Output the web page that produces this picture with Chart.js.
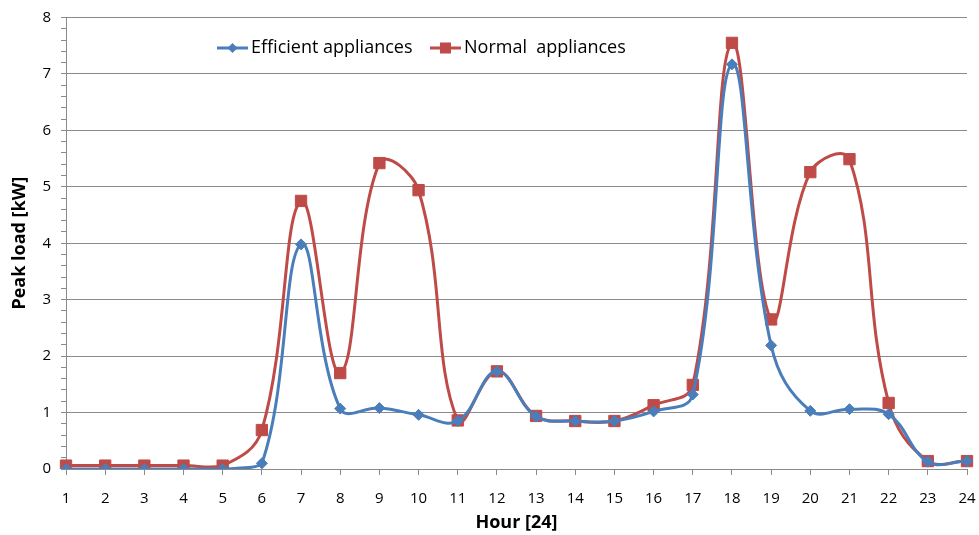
<!DOCTYPE html>
<html>
<head>
<meta charset="utf-8">
<script src="https://cdn.jsdelivr.net/npm/chart.js@4/dist/chart.umd.min.js"></script>
<style>
  html, body { margin: 0; padding: 0; background: #fff; }
  #wrap { width: 979px; height: 535px; }
</style>
</head>
<body>
<div id="wrap"><canvas id="c" width="979" height="535"></canvas></div>
<script>
// Hours of the day
const hours = [1,2,3,4,5,6,7,8,9,10,11,12,13,14,15,16,17,18,19,20,21,22,23,24];

// Peak load per hour [kW]
const efficientLoad = [0, 0, 0, 0, 0, 0.10, 3.98, 1.07, 1.08, 0.96, 0.85, 1.73,
                       0.93, 0.85, 0.85, 1.02, 1.32, 7.17, 2.19, 1.03, 1.06, 0.97, 0.13, 0.14];
const normalLoad    = [0.06, 0.06, 0.06, 0.06, 0.06, 0.69, 4.75, 1.70, 5.42, 4.94, 0.86, 1.73,
                       0.94, 0.85, 0.85, 1.13, 1.49, 7.55, 2.65, 5.26, 5.49, 1.17, 0.14, 0.14];

const seriesNames = ['Efficient appliances', 'Normal  appliances'];

const BLUE = '#4A7EBB';
const RED = '#BE4B48';
const GRID = '#8a8a8a';
const FONT = '"Open Sans", "Liberation Sans", sans-serif';

// Legend drawn inside the plot area: a short line with the series marker, then the name
const inlineLegend = {
  id: 'inlineLegend',
  afterDraw(chart) {
    const ctx = chart.ctx;
    const items = [
      { x: 217, color: BLUE, shape: 'diamond', text: seriesNames[0] },
      { x: 430, color: RED, shape: 'square', text: seriesNames[1] }
    ];
    const y = 48;
    ctx.save();
    ctx.font = '18px ' + FONT;
    ctx.textBaseline = 'middle';
    items.forEach(it => {
      ctx.strokeStyle = it.color;
      ctx.lineWidth = 3;
      ctx.beginPath();
      ctx.moveTo(it.x, y);
      ctx.lineTo(it.x + 31, y);
      ctx.stroke();
      ctx.fillStyle = it.color;
      const cx = it.x + 15.5;
      ctx.beginPath();
      if (it.shape === 'diamond') {
        ctx.moveTo(cx, y - 5); ctx.lineTo(cx + 5, y); ctx.lineTo(cx, y + 5); ctx.lineTo(cx - 5, y);
        ctx.closePath();
      } else {
        ctx.rect(cx - 5.5, y - 5.5, 11, 11);
      }
      ctx.fill();
      ctx.fillStyle = '#000';
      ctx.fillText(it.text, it.x + 34, y);
    });
    ctx.restore();
  }
};

new Chart(document.getElementById('c'), {
  type: 'line',
  data: {
    labels: hours,
    datasets: [
      {
        label: seriesNames[0],
        data: efficientLoad,
        borderColor: BLUE,
        backgroundColor: BLUE,
        borderWidth: 3,
        tension: 0.4,
        pointStyle: 'rectRot',
        pointRadius: 5.5,
        pointBorderWidth: 1,
        pointBackgroundColor: BLUE,
        pointBorderColor: BLUE
      },
      {
        label: seriesNames[1],
        data: normalLoad,
        borderColor: RED,
        backgroundColor: RED,
        borderWidth: 3,
        tension: 0.4,
        pointStyle: 'rect',
        pointRadius: 8,
        pointBorderWidth: 1,
        pointBackgroundColor: RED,
        pointBorderColor: RED
      }
    ]
  },
  options: {
    responsive: false,
    animation: false,
    layout: { padding: { top: 17.5, right: 12, left: 0, bottom: 0 } },
    plugins: {
      legend: { display: false },
      tooltip: { enabled: false }
    },
    scales: {
      x: {
        type: 'category',
        offset: false,
        afterFit: s => { s.height = 66; s.paddingLeft = 0; s.paddingRight = 0; },
        grid: {
          drawOnChartArea: false,
          drawTicks: true,
          tickLength: 6,
          tickColor: GRID,
          color: GRID
        },
        border: { color: GRID, width: 1 },
        ticks: {
          color: '#000',
          font: { family: FONT, size: 15 },
          padding: 15,
          maxRotation: 0,
          autoSkip: false
        },
        title: {
          display: true,
          text: 'Hour [24]',
          color: '#000',
          font: { family: FONT, size: 18, weight: 'bold' },
          padding: { top: 0, bottom: 1 }
        }
      },
      y: {
        min: 0,
        max: 8,
        afterFit: s => { s.width = 66; s.paddingTop = 0; s.paddingBottom = 0; },
        grid: {
          color: ctx => (Math.abs(ctx.tick.value - Math.round(ctx.tick.value)) < 1e-6 ? GRID : 'rgba(0,0,0,0)'),
          tickColor: GRID,
          tickLength: 5,
          lineWidth: 1
        },
        border: { color: GRID, width: 1 },
        ticks: {
          stepSize: 0.2,
          color: '#000',
          font: { family: FONT, size: 15 },
          padding: 10,
          autoSkip: false,
          callback: v => (Math.abs(v - Math.round(v)) < 1e-6 ? String(Math.round(v)) : '')
        },
        title: {
          display: true,
          text: 'Peak load [kW]',
          color: '#000',
          font: { family: FONT, size: 18, weight: 'bold' },
          padding: { top: 9, bottom: 0 }
        }
      }
    }
  },
  plugins: [inlineLegend]
});
</script>
</body>
</html>
